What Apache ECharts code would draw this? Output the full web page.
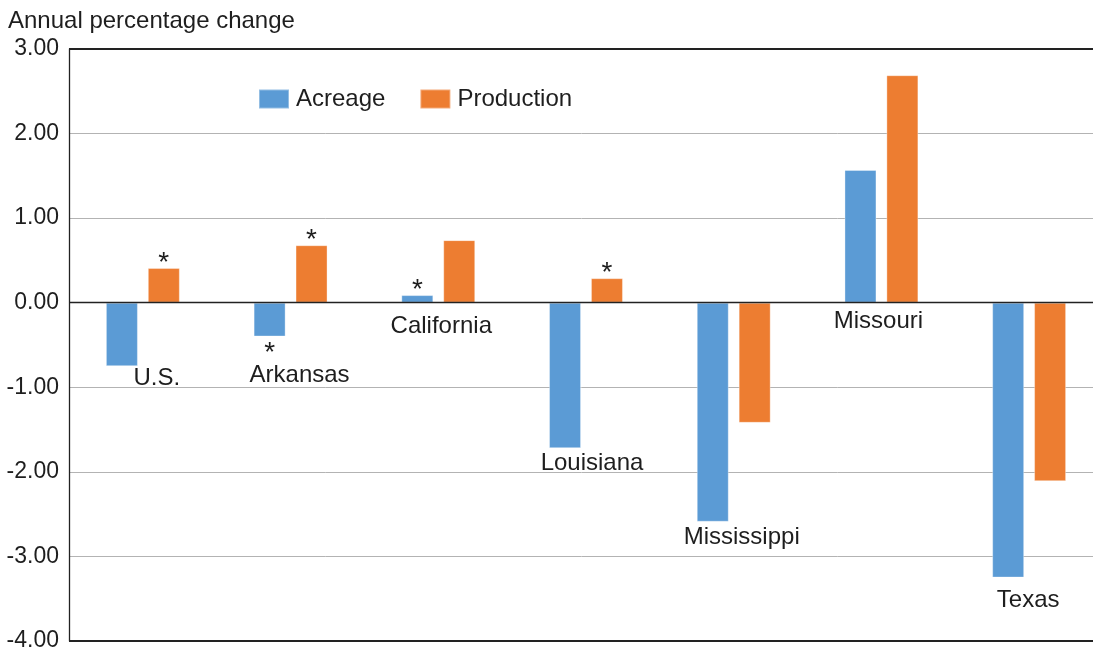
<!DOCTYPE html>
<html>
<head>
<meta charset="utf-8">
<script src="https://cdn.jsdelivr.net/npm/echarts@6/dist/echarts.min.js"></script>
<style>
html,body{margin:0;padding:0;background:#fff;}
#chart{width:1093px;height:649px;}
</style>
</head>
<body>
<div id="chart"></div>
<script>
// ---- data ----
const categories = ['U.S.', 'Arkansas', 'California', 'Louisiana', 'Mississippi', 'Missouri', 'Texas'];
const acreage    = [-0.75, -0.40, 0.09, -1.72, -2.59, 1.57, -3.25];
const production = [0.41, 0.68, 0.74, 0.29, -1.42, 2.69, -2.11];
// asterisk marks (statistically significant)
const acreageSig    = [false, true, true, false, false, false, false];
const productionSig = [true, true, false, true, false, false, false];
// y value (data units) at which each category name is written
const nameLabelY = [-0.90, -0.86, -0.28, -1.90, -2.78, -0.22, -3.52];
const yTicks = [-4, -3, -2, -1, 0, 1, 2, 3];

// ---- style ----
const FONT = '"Liberation Sans", Arial, Helvetica, sans-serif';
const TXT = '#1e1e1e';
const nameNudgeX = [14, 9, 3, 6, 8, -3, -1];

function barData(vals, sig) {
  return vals.map((v, i) => {
    if (!sig[i]) return v;
    return {
      value: v,
      label: {
        show: true,
        formatter: '*',
        position: v >= 0 ? 'top' : 'bottom',
        distance: v >= 0 ? -9 : 3,
        fontSize: 28,
        fontFamily: FONT,
        color: TXT
      }
    };
  });
}

const chart = echarts.init(document.getElementById('chart'), null, {renderer: 'canvas'});
chart.setOption({
  animation: false,
  backgroundColor: '#fff',
  title: {
    text: 'Annual percentage change',
    left: 3, top: 4,
    textStyle: {fontSize: 24, fontWeight: 'normal', fontFamily: FONT, color: TXT}
  },
  legend: {
    data: ['Acreage', 'Production'],
    left: 253, top: 82,
    icon: 'rect',
    itemWidth: 30, itemHeight: 19, itemGap: 34,
    textStyle: {fontSize: 24, fontFamily: FONT, color: TXT, padding: [0, 0, 0, 2]}
  },
  grid: {left: 69, top: 49, width: 1034, height: 592, containLabel: false, outerBoundsMode: 'none'},
  xAxis: {
    type: 'category',
    data: categories,
    axisLine: {show: false},
    axisTick: {show: false},
    axisLabel: {show: false},
    splitLine: {show: false}
  },
  yAxis: {
    type: 'value',
    min: yTicks[0], max: yTicks[yTicks.length - 1], interval: 1,
    axisLine: {show: true, lineStyle: {color: '#222', width: 1.3}},
    axisTick: {show: false},
    axisLabel: {
      margin: 10,
      fontSize: 23,
      fontFamily: FONT,
      color: TXT,
      formatter: v => v.toFixed(2)
    },
    splitLine: {show: true, lineStyle: {color: '#b3b3b3', width: 1}}
  },
  series: [
    {
      name: 'Acreage',
      type: 'bar',
      data: barData(acreage, acreageSig),
      barWidth: 32,
      barGap: '31%',
      itemStyle: {color: '#5b9bd5', borderColor: 'rgba(255,255,255,0.35)', borderWidth: 1},
      markLine: {
        silent: true,
        symbol: 'none',
        label: {show: false},
        lineStyle: {color: '#222', type: 'solid', width: 1.3},
        data: [{yAxis: 0}, {yAxis: 3, lineStyle: {width: 2}}, {yAxis: -4, lineStyle: {width: 2}}]
      },
      z: 3
    },
    {
      name: 'Production',
      type: 'bar',
      data: barData(production, productionSig),
      barWidth: 32,
      barGap: '31%',
      itemStyle: {color: '#ed7d31', borderColor: 'rgba(255,255,255,0.35)', borderWidth: 1},
      z: 3
    },
    {
      name: 'names',
      type: 'scatter',
      symbolSize: 0,
      itemStyle: {color: '#ffffff', opacity: 1},
      silent: true,
      z: 5,
      data: categories.map((c, i) => ({
        value: [c, nameLabelY[i]],
        label: {
          show: true,
          position: 'inside',
          offset: [nameNudgeX[i], 0],
          formatter: c,
          fontSize: 24,
          fontFamily: FONT,
          color: TXT,
          textBorderWidth: 0,
          opacity: 1
        }
      }))
    }
  ]
});
</script>
</body>
</html>
